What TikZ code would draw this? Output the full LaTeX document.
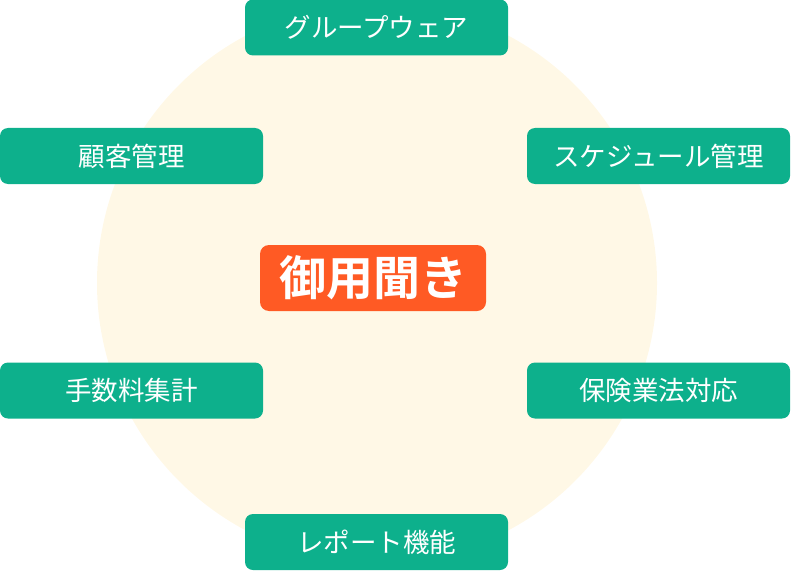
\documentclass[tikz,border=0pt]{standalone}
\usepackage{fontspec}
\newfontfamily\jpfont{Noto Sans CJK JP}
\newfontfamily\jpbold{Noto Sans CJK JP Bold}
\definecolor{teal1}{HTML}{0DB08C}
\definecolor{orng}{HTML}{FF5A24}
\definecolor{cream}{HTML}{FFF8E6}
\begin{document}
\begin{tikzpicture}[x=1pt,y=-1pt,
  item/.style={fill=teal1, rounded corners=8pt, minimum width=263pt, minimum height=56pt, inner sep=0pt, text=white, font=\jpfont\fontsize{26.5}{30}\selectfont},
  title/.style={fill=orng, rounded corners=9pt, minimum width=226pt, minimum height=66pt, inner sep=0pt, text=white, font=\jpbold\fontsize{47}{52}\selectfont}]
\useasboundingbox (0,0) rectangle (791,572);
\fill[cream] (377,283) circle (280);
\node[item] (gw) at (376.5,27.5) {グループウェア};
\node[item] (cm) at (131.5,156) {顧客管理};
\node[item] (sc) at (658.5,156) {スケジュール管理};
\node[item] (fee) at (131.5,390.5) {手数料集計};
\node[item] (ins) at (658.5,390.5) {保険業法対応};
\node[item] (rep) at (376.5,542) {レポート機能};
\node[title] (main) at (373,278) {御用聞き};
\end{tikzpicture}
\end{document}
